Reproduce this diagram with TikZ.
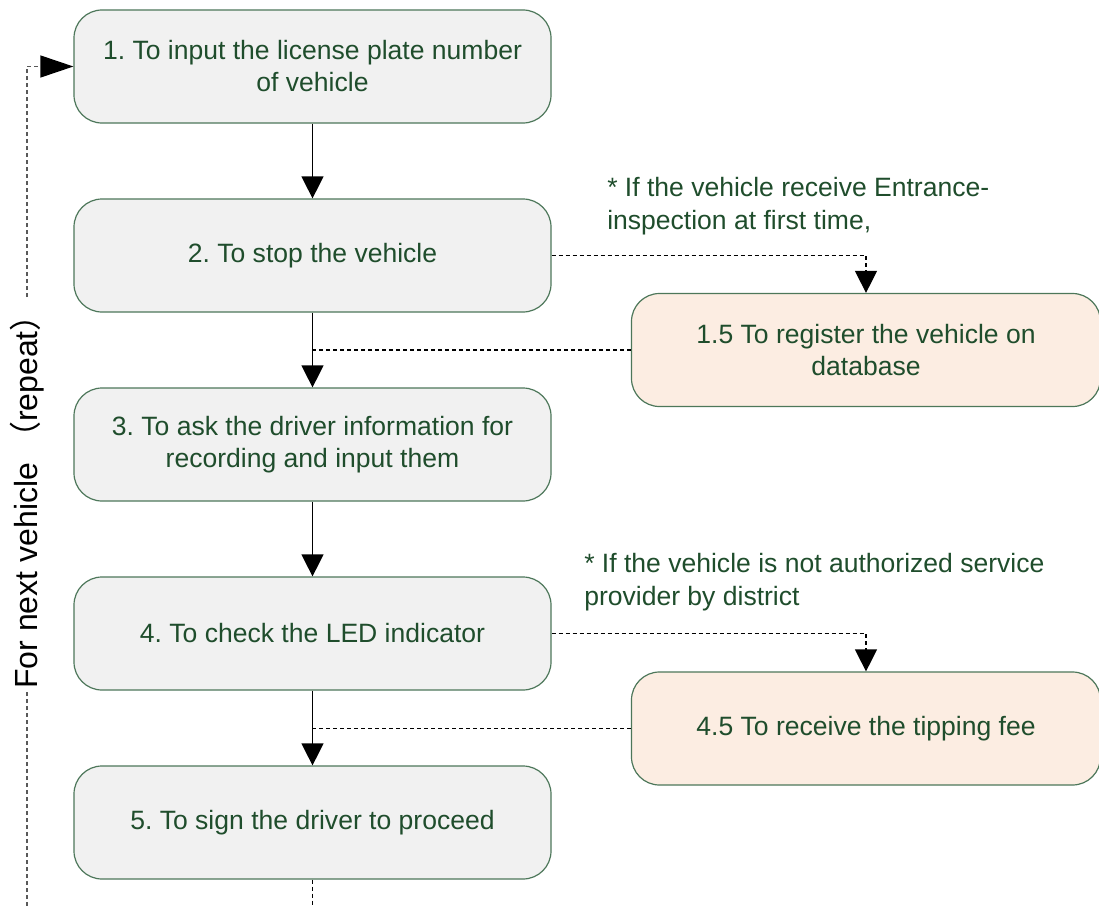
\documentclass[tikz,border=0pt]{standalone}
\usepackage{fontspec}
\setmainfont{Liberation Sans}
\newfontfamily\cjk{Noto Sans CJK SC}
\usetikzlibrary{arrows.meta,calc}
\definecolor{txtgreen}{HTML}{1F4D2C}
\definecolor{boxline}{HTML}{4D775A}
\definecolor{boxgray}{HTML}{F1F1F1}
\definecolor{boxpeach}{HTML}{FCEDE2}
\frenchspacing
\tikzset{
	stepbox/.style={draw=boxline, line width=0.9pt, fill=boxgray, rounded corners=21pt,
		minimum width=357.75pt, minimum height=84.75pt, inner sep=0pt, align=center,
		text=txtgreen, font=\fontsize{19.9}{24}\selectfont},
	sidebox/.style={stepbox, fill=boxpeach, minimum width=351.75pt},
	notetext/.style={anchor=west, inner sep=0pt, align=left, text=txtgreen,
		font=\fontsize{19.9}{25}\selectfont},
	flow/.style={line width=0.9pt, -{Triangle[length=16.5pt,width=16.5pt]}},
	dashflow/.style={flow, dash pattern=on 3pt off 2.25pt},
	dashjoin/.style={line width=0.9pt, dash pattern=on 3pt off 2.25pt},
	repeatline/.style={line width=0.9pt, color=black!65, dash pattern=on 3pt off 2.25pt,
		-{Triangle[length=24.75pt,width=16.5pt,color=black]}}
}

\begin{document}
\begin{tikzpicture}[x=0.75pt, y=-0.75pt]
			%%%%% START %%%%%
			\useasboundingbox (0, 0) rectangle (1099, 906);
			
			\node[stepbox] (b1) at (312.5, 66.5) {1. To input the license plate number\\of vehicle};
			\node[stepbox] (b2) at (312.5, 255.5) {2. To stop the vehicle};
			\node[stepbox] (b3) at (312.5, 444.5) {3. To ask the driver information for\\recording and input them};
			\node[stepbox] (b4) at (312.5, 633.5) {4. To check the LED indicator};
			\node[stepbox] (b5) at (312.5, 822.5) {5. To sign the driver to proceed};
			
			\node[sidebox] (s1) at (866, 350) {1.5 To register the vehicle on\\database};
			\node[sidebox] (s2) at (866, 728.5) {4.5 To receive the tipping fee};
			
			\node[notetext] (n1) at (607, 206) {* If the vehicle receive Entrance-\\inspection at first time,};
			\node[notetext] (n2) at (584, 582) {* If the vehicle is not authorized service\\provider by district};
			
			\coordinate (loopend) at (27, 906);
			\coordinate (flowend) at (312.5, 906);
			
			% main column
			\draw[flow] (b1) -- (b2);
			\draw[flow] (b2) -- (b3);
			\draw[flow] (b3) -- (b4);
			\draw[flow] (b4) -- (b5);
			\draw[dashjoin] (b5) -- (flowend);
			
			% side steps
			\draw[dashflow] (b2.east) -| (s1.north);
			\draw[dashjoin] (s1.west) -- (s1.west -| b2.south);
			\draw[dashflow] (b4.east) -| (s2.north);
			\draw[dashjoin] (s2.west) -- (s2.west -| b4.south);
			
			% repeat
			\draw[repeatline] (loopend) |- (b1.west);
			\node[rotate=90, fill=white, inner sep=1pt, font=\fontsize{24}{28}\selectfont] (rep) at (27, 494)
				{For next vehicle {\cjk （}repeat{\cjk ）}};
			%%%%% END %%%%%
\end{tikzpicture}
\end{document}
